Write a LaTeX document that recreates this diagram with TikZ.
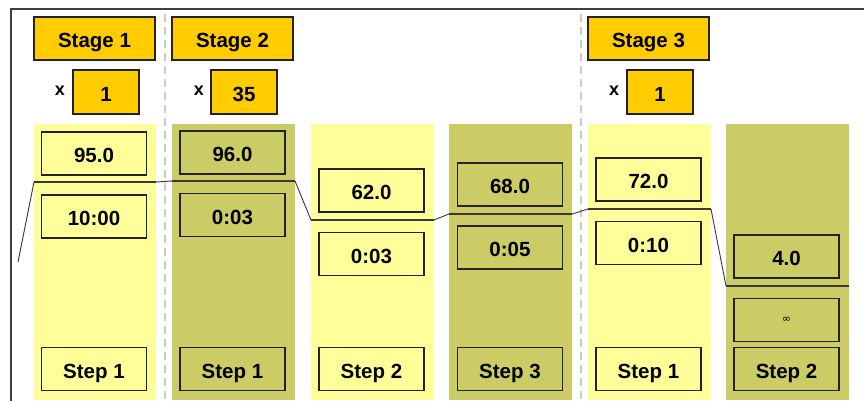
\documentclass[tikz,border=0pt]{standalone}
\usepackage{fontspec}
\setmainfont{Liberation Sans}
\newfontfamily\symfont{DejaVu Sans}
\definecolor{lightcol}{HTML}{FFFF99}
\definecolor{darkcol}{HTML}{CCCC66}
\definecolor{gold}{HTML}{FFCC00}
\definecolor{edge}{HTML}{222222}
\definecolor{sep}{HTML}{CCCCCC}
\begin{document}
\begin{tikzpicture}[x=1pt,y=-1pt,
  every node/.style={inner sep=0pt},
  boxtext/.style={font=\fontsize{20.5}{24}\selectfont\bfseries, text height=18pt, text depth=0pt},
  stagebox/.style={boxtext, draw=edge, line width=1.3pt, fill=gold, minimum width=121pt, minimum height=43pt},
  multbox/.style={boxtext, draw=edge, line width=1.3pt, fill=gold, minimum width=66pt, minimum height=44pt},
  valbox/.style={boxtext, draw=edge, line width=1.3pt, minimum width=105pt, minimum height=43pt},
  timeslabel/.style={font=\fontsize{18}{20}\selectfont\bfseries},
  lightbg/.style={fill=lightcol},
  darkbg/.style={fill=darkcol},
  sepline/.style={draw=sep, line width=1.5pt, dash pattern=on 8pt off 5pt},
  level/.style={draw=edge!90, line width=1.4pt},
  ramp/.style={draw=edge!90, line width=0.9pt},
  frameline/.style={draw=black!75, line width=1.5pt}
]
\useasboundingbox (0,0) rectangle (864,400);
\fill[white] (0,0) rectangle (864,400);
% frame
\draw[frameline] (11,402) -- (11,9) -- (866,9);
% separators
\draw[sepline] (165,14) -- (165,400);
\draw[sepline] (581,14) -- (581,400);
% column backgrounds
\fill[lightbg] (34,124) rectangle (156,400);
\fill[darkbg] (172,124) rectangle (295,400);
\fill[lightbg] (311,124) rectangle (434,400);
\fill[darkbg] (449,124) rectangle (572,400);
\fill[lightbg] (588,124) rectangle (711,400);
\fill[darkbg] (726,124) rectangle (849,400);
% stages
\node[stagebox] (s1) at (94.5,38.5) {Stage 1};
\node[stagebox] (s2) at (232.5,38.5) {Stage 2};
\node[stagebox] (s3) at (648.5,38.5) {Stage 3};
\node[timeslabel] (x1) at (60,91) {x};
\node[timeslabel] (x2) at (199,91) {x};
\node[timeslabel] (x3) at (614,91) {x};
\node[multbox] (m1) at (106,92) {1};
\node[multbox] (m2) at (244,92) {35};
\node[multbox] (m3) at (660,92) {1};
% values
\node[valbox] (t1) at (94,153.5) {95.0};
\node[valbox] (d1) at (94,216.5) {10:00};
\node[valbox] (t2) at (232.5,152.5) {96.0};
\node[valbox] (d2) at (232.5,215) {0:03};
\node[valbox] (t3) at (371.5,190.5) {62.0};
\node[valbox] (d3) at (371.5,254) {0:03};
\node[valbox] (t4) at (510,184.5) {68.0};
\node[valbox] (d4) at (510,247.5) {0:05};
\node[valbox] (t5) at (648.5,179.5) {72.0};
\node[valbox] (d5) at (648.5,243) {0:10};
\node[valbox] (t6) at (786.5,256.5) {4.0};
\node[draw=edge, line width=1.3pt, minimum width=105pt, minimum height=43pt, font=\symfont\fontsize{11}{12}\selectfont] (d6) at (786.5,320) {∞};
% steps
\node[valbox] (p1) at (94,369) {Step 1};
\node[valbox] (p2) at (232.5,369) {Step 1};
\node[valbox] (p3) at (371.5,369) {Step 2};
\node[valbox] (p4) at (510,369) {Step 3};
\node[valbox] (p5) at (648.5,369) {Step 1};
\node[valbox] (p6) at (786.5,369) {Step 2};
% profile
\coordinate (a0) at (18,262);
\coordinate (a1) at (34,182);  \coordinate (b1) at (156,182);
\coordinate (a2) at (172,181); \coordinate (b2) at (295,181);
\coordinate (a3) at (311,220); \coordinate (b3) at (434,220);
\coordinate (a4) at (449,214); \coordinate (b4) at (572,214);
\coordinate (a5) at (588,209); \coordinate (b5) at (711,209);
\coordinate (a6) at (726,286); \coordinate (b6) at (849,286);
\draw[ramp] (a0) -- (a1);
\draw[level] (a1) -- (b1);
\draw[ramp] (b1) -- (a2);
\draw[level] (a2) -- (b2);
\draw[ramp] (b2) -- (a3);
\draw[level] (a3) -- (b3);
\draw[ramp] (b3) -- (a4);
\draw[level] (a4) -- (b4);
\draw[ramp] (b4) -- (a5);
\draw[level] (a5) -- (b5);
\draw[ramp] (b5) -- (a6);
\draw[level] (a6) -- (b6);
\end{tikzpicture}
\end{document}
